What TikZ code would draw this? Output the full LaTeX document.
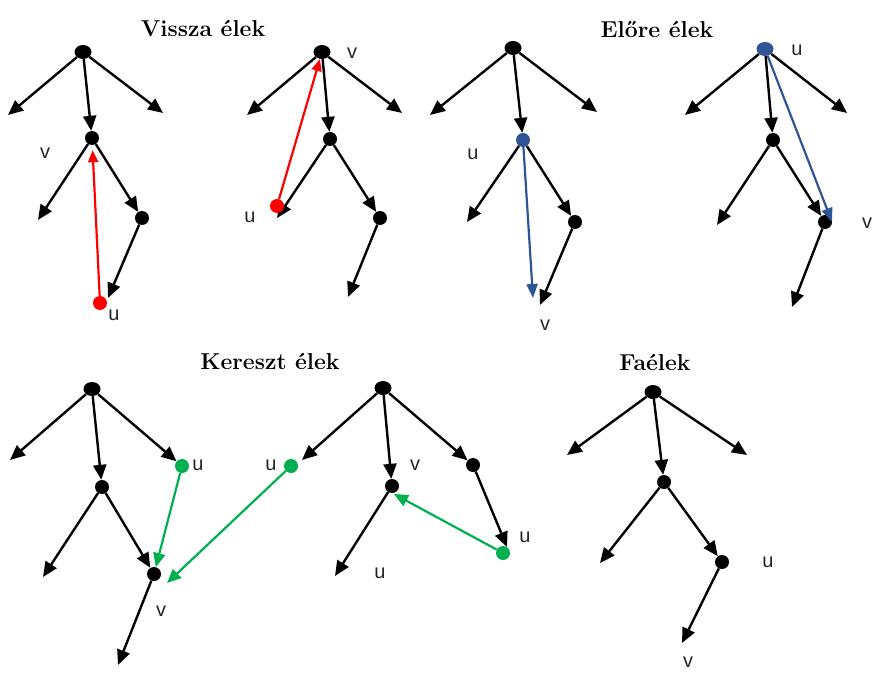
\documentclass[tikz,border=0pt]{standalone}
\usepackage{fontspec}
\setsansfont{Liberation Sans}
\usetikzlibrary{arrows.meta,shapes.geometric}
\definecolor{backred}{RGB}{255,0,0}
\definecolor{fwdblue}{RGB}{47,85,151}
\definecolor{crossgreen}{RGB}{0,176,80}
\begin{document}
\begin{tikzpicture}[x=1pt,y=-1pt,
		dot/.style={circle,fill,inner sep=0pt,minimum size=14pt},
		rootdot/.style={ellipse,fill,inner sep=0pt,minimum width=17pt,minimum height=14pt},
		treeedge/.style={-{Triangle[length=15pt,width=13pt]},line width=2.4pt},
		backedge/.style={-{Triangle[length=12pt,width=10pt]},line width=2.2pt,backred},
		fwdedge/.style={-{Triangle[length=14pt,width=11pt]},line width=2.2pt,fwdblue},
		crossedge/.style={-{Triangle[length=14pt,width=12pt]},line width=2.2pt,crossgreen},
		lbl/.style={font=\sffamily\fontsize{20}{20}\selectfont,text=black!85},
		heading/.style={font=\bfseries\fontsize{23}{27}\selectfont}]
	\useasboundingbox (0,0) rectangle (888,679);

	% titles
	\node[heading] (tvissza) at (203,29) {Vissza élek};
	\node[heading] (telore) at (657,29) {Előre élek};
	\node[heading] (tkereszt) at (270,361) {Kereszt élek};
	\node[heading] (tfa) at (655,362) {Faélek};

	% tree 1 (vissza)
	\node[rootdot] (r1) at (83,52) {};
	\node[dot] (m1) at (92,138) {};
	\node[dot] (c1) at (142,218) {};
	\node[dot,backred] (u1) at (100,303) {};
	\coordinate (l1a) at (8,115);
	\coordinate (l1b) at (163,113);
	\coordinate (l1c) at (38,220);
	\coordinate (l1d) at (108,298);
	\draw[treeedge] (r1)--(l1a);
	\draw[treeedge] (r1)--(l1b);
	\draw[treeedge] (r1)--(m1);
	\draw[treeedge] (m1)--(l1c);
	\draw[treeedge] (m1)--(c1);
	\draw[treeedge] (c1)--(l1d);
	\draw[backedge,shorten >=5pt] (u1)--(m1); % back edge
	\node[lbl] (v1) at (45,153) {v};
	\node[lbl] (uu1) at (114,315) {u};

	% tree 2 (vissza)
	\node[rootdot] (r2) at (322,52) {};
	\node[dot] (m2) at (330,139) {};
	\node[dot] (c2) at (380,218) {};
	\coordinate (l2a) at (247,115);
	\coordinate (l2b) at (402,113);
	\coordinate (l2c) at (277,218);
	\coordinate (l2d) at (348,297);
	\draw[treeedge] (r2)--(l2a);
	\draw[treeedge] (r2)--(l2b);
	\draw[treeedge] (r2)--(m2);
	\draw[treeedge] (m2)--(l2c);
	\draw[treeedge] (m2)--(c2);
	\draw[treeedge] (c2)--(l2d);
	\node[dot,backred] (u2) at (277,206) {};
	\draw[backedge] (u2)--(r2); % back edge
	\node[lbl] (v2) at (352,53) {v};
	\node[lbl] (uu2) at (250,217) {u};

	% tree 3 (elore)
	\node[rootdot] (r3) at (513,48) {};
	\node[dot,fwdblue] (m3) at (523,140) {};
	\node[dot] (c3) at (575,222) {};
	\coordinate (l3a) at (430,115);
	\coordinate (l3b) at (597,112);
	\coordinate (l3c) at (467,222);
	\coordinate (l3d) at (540,305);
	\coordinate (b3) at (533,298);
	\draw[treeedge] (r3)--(l3a);
	\draw[treeedge] (r3)--(l3b);
	\draw[treeedge] (r3)--(m3);
	\draw[treeedge] (m3)--(l3c);
	\draw[treeedge] (m3)--(c3);
	\draw[treeedge] (c3)--(l3d);
	\draw[fwdedge] (m3)--(b3); % forward edge
	\node[lbl] (uu3) at (473,154) {u};
	\node[lbl] (v3) at (545,325) {v};

	% tree 4 (elore)
	\node[rootdot,fwdblue] (r4) at (765,49) {};
	\node[dot] (m4) at (773,140) {};
	\node[dot] (c4) at (825,222) {};
	\coordinate (l4a) at (685,115);
	\coordinate (l4b) at (847,113);
	\coordinate (l4c) at (717,225);
	\coordinate (l4d) at (792,307);
	\coordinate (b4) at (832,222);
	\draw[treeedge] (r4)--(l4a);
	\draw[treeedge] (r4)--(l4b);
	\draw[treeedge] (r4)--(m4);
	\draw[treeedge] (m4)--(l4c);
	\draw[treeedge] (m4)--(c4);
	\draw[treeedge] (c4)--(l4d);
	\draw[fwdedge] (r4)--(b4); % forward edge
	\node[lbl] (uu4) at (797,50) {u};
	\node[lbl] (v4) at (867,223) {v};

	% tree 5 (kereszt)
	\node[rootdot] (r5) at (92,389) {};
	\node[dot,crossgreen] (u5) at (182,466) {};
	\node[dot] (m5) at (102,487) {};
	\node[dot] (c5) at (154,574) {};
	\coordinate (l5a) at (10,460);
	\coordinate (l5c) at (43,577);
	\coordinate (l5d) at (118,665);
	\draw[treeedge] (r5)--(l5a);
	\draw[treeedge] (r5)--(u5);
	\draw[treeedge] (r5)--(m5);
	\draw[treeedge] (m5)--(l5c);
	\draw[treeedge] (m5)--(c5);
	\draw[treeedge] (c5)--(l5d);
	\draw[crossedge] (u5)--(c5); % cross edge
	\node[dot,crossgreen] (w5) at (291,466) {};
	\coordinate (g5) at (167,583);
	\draw[crossedge] (w5)--(g5); % cross edge between trees
	\node[lbl] (uu5) at (198,465) {u};
	\node[lbl] (uw5) at (271,465) {u};
	\node[lbl] (v5) at (161,611) {v};

	% tree 6 (kereszt)
	\node[rootdot] (r6) at (383,388) {};
	\node[dot] (m6) at (392,486) {};
	\node[dot] (c6) at (473,465) {};
	\coordinate (l6a) at (302,460);
	\coordinate (l6c) at (335,576);
	\coordinate (l6d) at (507,547);
	\draw[treeedge] (r6)--(l6a);
	\draw[treeedge] (r6)--(m6);
	\draw[treeedge] (r6)--(c6);
	\draw[treeedge] (m6)--(l6c);
	\draw[treeedge] (c6)--(l6d);
	\node[dot,crossgreen] (u6) at (503,553) {};
	\coordinate (g6) at (394,494);
	\draw[crossedge] (u6)--(g6); % cross edge
	\node[lbl] (v6) at (415,465) {v};
	\node[lbl] (uu6) at (525,537) {u};
	\node[lbl] (ul6) at (380,573) {u};

	% tree 7 (faelek)
	\node[rootdot] (r7) at (653,392) {};
	\node[dot] (m7) at (664,482) {};
	\node[dot] (c7) at (722,562) {};
	\coordinate (l7a) at (567,455);
	\coordinate (l7b) at (747,455);
	\coordinate (l7c) at (600,563);
	\coordinate (l7d) at (682,643);
	\draw[treeedge] (r7)--(l7a);
	\draw[treeedge] (r7)--(l7b);
	\draw[treeedge] (r7)--(m7);
	\draw[treeedge] (m7)--(l7c);
	\draw[treeedge] (m7)--(c7);
	\draw[treeedge] (c7)--(l7d);
	\node[lbl] (uu7) at (768,562) {u};
	\node[lbl] (v7) at (688,662) {v};
\end{tikzpicture}
\end{document}
